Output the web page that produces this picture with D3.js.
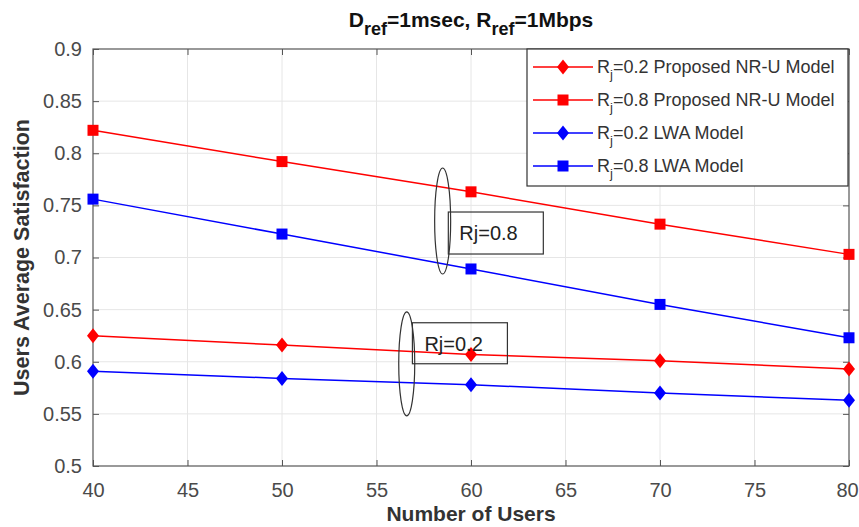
<!DOCTYPE html>
<html>
<head>
<meta charset="utf-8">
<script src="https://cdn.jsdelivr.net/npm/d3@7"></script>
<style>
  body { margin: 0; background: #fff; }
  svg { display: block; font-family: "Liberation Sans", Arial, sans-serif; }
</style>
</head>
<body>
<div id="chart"></div>
<script>
// data
var users = [40, 50, 60, 70, 80];
var nru02 = [0.625, 0.616, 0.607, 0.601, 0.593];
var nru08 = [0.822, 0.792, 0.763, 0.732, 0.703];
var lwa02 = [0.591, 0.584, 0.578, 0.570, 0.563];
var lwa08 = [0.756, 0.7225, 0.689, 0.655, 0.623];
var xTicks = [40, 45, 50, 55, 60, 65, 70, 75, 80];
var yTicks = [0.5, 0.55, 0.6, 0.65, 0.7, 0.75, 0.8, 0.85, 0.9];

var series = [
  { name: "=0.2 Proposed NR-U Model", values: nru02, color: "#ff0000", marker: "diamond" },
  { name: "=0.8 Proposed NR-U Model", values: nru08, color: "#ff0000", marker: "square" },
  { name: "=0.2 LWA Model", values: lwa02, color: "#0000ff", marker: "diamond" },
  { name: "=0.8 LWA Model", values: lwa08, color: "#0000ff", marker: "square" }
];

var W = 859, H = 527;
var margin = { top: 49, right: 10, bottom: 61, left: 93 };
var width = W - margin.left - margin.right;
var height = H - margin.top - margin.bottom;

var svg = d3.select("#chart").append("svg")
    .attr("width", W)
    .attr("height", H);

var g = svg.append("g")
    .attr("transform", "translate(" + margin.left + "," + margin.top + ")");

var x = d3.scaleLinear().domain([40, 80]).range([0, width]);
var y = d3.scaleLinear().domain([0.5, 0.9]).range([height, 0]);

// grid
g.append("g").selectAll("line")
  .data(xTicks.slice(1, -1))
  .enter().append("line")
    .attr("x1", x).attr("x2", x)
    .attr("y1", 0).attr("y2", height)
    .attr("stroke", "#e6e6e6");
g.append("g").selectAll("line")
  .data(yTicks.slice(1, -1))
  .enter().append("line")
    .attr("y1", y).attr("y2", y)
    .attr("x1", 0).attr("x2", width)
    .attr("stroke", "#e6e6e6");

// axes, MATLAB style ticks inside on all sides
function styleAxis(sel) {
  sel.select(".domain").remove();
  sel.selectAll(".tick line").attr("stroke", "#555");
  sel.selectAll(".tick text").attr("fill", "#4a4a4a");
}

g.append("g")
    .attr("transform", "translate(0," + height + ")")
    .call(d3.axisBottom(x).tickValues(xTicks).tickSize(-6).tickPadding(17).tickFormat(d3.format("d")))
    .call(styleAxis)
    .selectAll(".tick text")
    .style("font-size", "20px")
    .attr("dx", function(d) { return d === 80 ? -2 : 0; });

g.append("g")
    .call(d3.axisTop(x).tickValues(xTicks).tickSize(-6).tickFormat(""))
    .call(styleAxis);

g.append("g")
    .call(d3.axisLeft(y).tickValues(yTicks).tickSize(-6).tickPadding(11).tickFormat(function(d) { return d3.format("")(+d.toFixed(2)); }))
    .call(styleAxis)
    .selectAll(".tick text")
    .style("font-size", "20px");

g.append("g")
    .attr("transform", "translate(" + width + ",0)")
    .call(d3.axisRight(y).tickValues(yTicks).tickSize(-6).tickFormat(""))
    .call(styleAxis);

g.append("rect")
    .attr("width", width).attr("height", height)
    .attr("fill", "none").attr("stroke", "#555").attr("stroke-width", 1.2);

// lines and markers
var line = d3.line()
    .x(function(d, i) { return x(users[i]); })
    .y(function(d) { return y(d); });

var diamond = "M0,-7.5L6,0L0,7.5L-6,0Z";
var square = "M-5.5,-5.5H5.5V5.5H-5.5Z";

series.forEach(function(s) {
  g.append("path")
    .datum(s.values)
    .attr("d", line)
    .attr("fill", "none")
    .attr("stroke", s.color)
    .attr("stroke-width", 1.5);
  g.selectAll(null)
    .data(s.values)
    .enter().append("path")
      .attr("d", s.marker === "diamond" ? diamond : square)
      .attr("transform", function(d, i) { return "translate(" + x(users[i]) + "," + y(d) + ")"; })
      .attr("fill", s.color);
});

// annotations
g.append("ellipse")
    .attr("cx", x(58.5)).attr("cy", y(0.735))
    .attr("rx", 8).attr("ry", 53)
    .attr("fill", "none").attr("stroke", "#333").attr("stroke-width", 1.2);
g.append("rect")
    .attr("x", x(58.8)).attr("y", y(0.735) - 9)
    .attr("width", 95).attr("height", 42)
    .attr("fill", "none").attr("stroke", "#333").attr("stroke-width", 1.2);
g.append("text")
    .attr("x", x(58.8) + 11).attr("y", y(0.735) + 19)
    .attr("fill", "#222").style("font-size", "20px")
    .text("Rj=0.8");

g.append("ellipse")
    .attr("cx", x(56.6)).attr("cy", y(0.598))
    .attr("rx", 8).attr("ry", 52)
    .attr("fill", "none").attr("stroke", "#333").attr("stroke-width", 1.2);
g.append("rect")
    .attr("x", x(56.9)).attr("y", y(0.6) - 39)
    .attr("width", 95).attr("height", 41)
    .attr("fill", "none").attr("stroke", "#333").attr("stroke-width", 1.2);
g.append("text")
    .attr("x", x(56.9) + 12).attr("y", y(0.6) - 11)
    .attr("fill", "#222").style("font-size", "20px")
    .text("Rj=0.2");

// legend
var legend = g.append("g").attr("transform", "translate(" + (width - 322) + ",0)");
legend.append("rect")
    .attr("width", 321).attr("height", 137)
    .attr("fill", "#fff").attr("stroke", "#333").attr("stroke-width", 1.2);

var item = legend.selectAll(".item")
  .data(series)
  .enter().append("g")
    .attr("transform", function(d, i) { return "translate(0," + (18 + i * 33) + ")"; });
item.append("line")
    .attr("x1", 6).attr("x2", 66)
    .attr("stroke", function(d) { return d.color; })
    .attr("stroke-width", 1.5);
item.append("path")
    .attr("d", function(d) { return d.marker === "diamond" ? diamond : square; })
    .attr("transform", "translate(36,0)")
    .attr("fill", function(d) { return d.color; });
var lt = item.append("text")
    .attr("x", 70).attr("y", 6)
    .attr("fill", "#333").style("font-size", "18px");
lt.append("tspan").text("R");
lt.append("tspan").attr("dy", 6).style("font-size", "13px").text("j");
lt.append("tspan").attr("dy", -6).text(function(d) { return d.name; });

// title
var title = svg.append("text")
    .attr("x", margin.left + width / 2).attr("y", 27)
    .attr("text-anchor", "middle")
    .attr("fill", "#111").style("font-size", "21px").style("font-weight", "bold");
title.append("tspan").text("D");
title.append("tspan").attr("dy", 8).style("font-size", "18px").text("ref");
title.append("tspan").attr("dy", -8).text("=1msec, R");
title.append("tspan").attr("dy", 8).style("font-size", "18px").text("ref");
title.append("tspan").attr("dy", -8).text("=1Mbps");

// axis labels
svg.append("text")
    .attr("x", margin.left + width / 2).attr("y", 521)
    .attr("text-anchor", "middle")
    .attr("fill", "#333")
    .style("font-size", "21px").style("font-weight", "bold")
    .text("Number of Users");

svg.append("text")
    .attr("transform", "translate(29," + (margin.top + height / 2) + ") rotate(-90)")
    .attr("text-anchor", "middle")
    .attr("fill", "#333")
    .style("font-size", "21.5px").style("font-weight", "bold")
    .text("Users Average Satisfaction");
</script>
</body>
</html>
